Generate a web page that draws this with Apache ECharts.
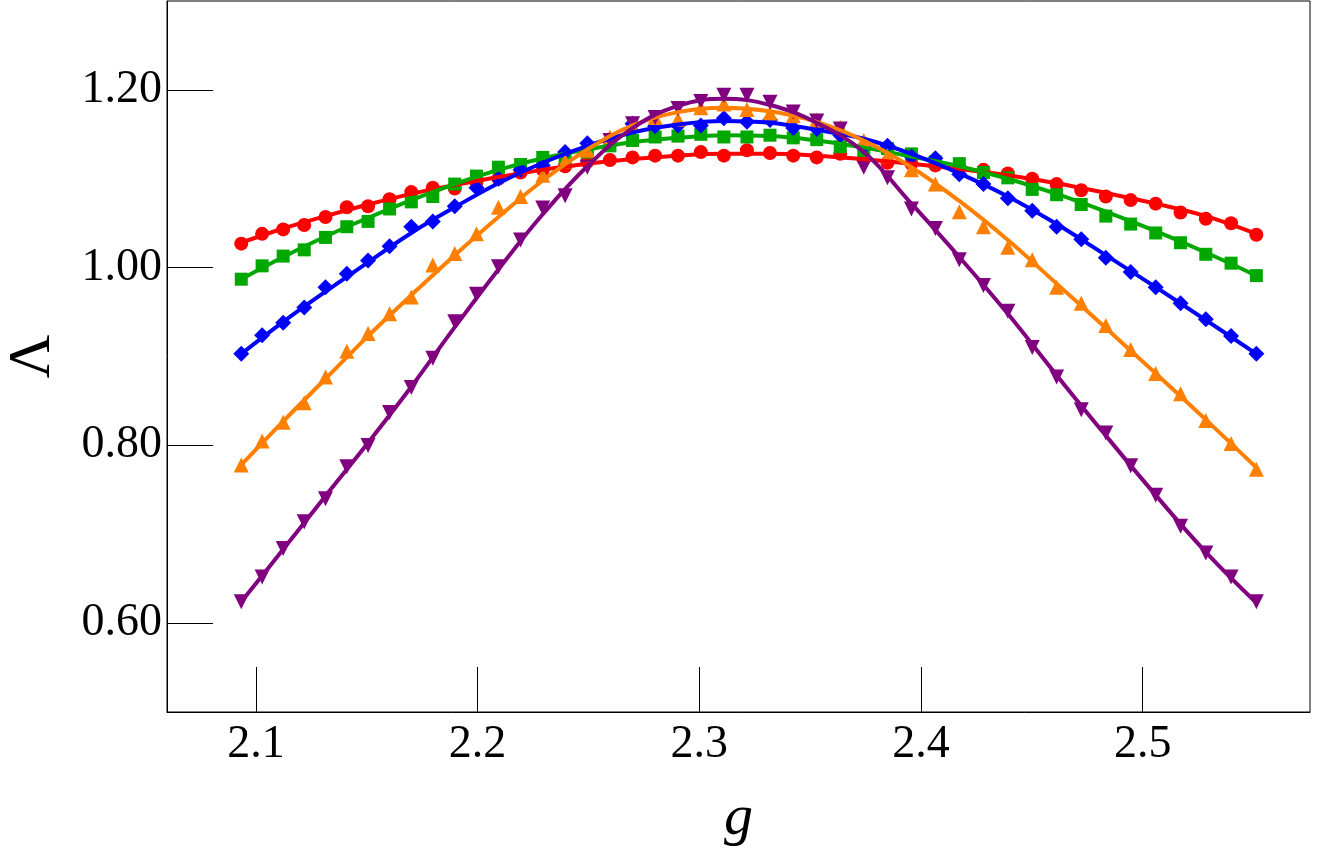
<!DOCTYPE html>
<html>
<head>
<meta charset="utf-8">
<script src="https://cdn.jsdelivr.net/npm/echarts@6/dist/echarts.min.js"></script>
<style>
  html, body { margin: 0; padding: 0; background: #fff; }
  #main { width: 1321px; height: 859px; }
</style>
</head>
<body>
<div id="main"></div>
<script type="text/javascript">
    // coupling values g of the measured points
    var gVals = [2.0934, 2.1028, 2.1123, 2.1218, 2.1314, 2.1410, 2.1506, 2.1603, 2.1701, 2.1798,
                 2.1897, 2.1995, 2.2094, 2.2194, 2.2294, 2.2395, 2.2495, 2.2597, 2.2699, 2.2801,
                 2.2904, 2.3007, 2.3111, 2.3215, 2.3319, 2.3424, 2.3530, 2.3636, 2.3742, 2.3849,
                 2.3957, 2.4065, 2.4173, 2.4282, 2.4392, 2.4502, 2.4612, 2.4723, 2.4834, 2.4946,
                 2.5059, 2.5171, 2.5285, 2.5399, 2.5513];

    var red    = [1.027, 1.038, 1.043, 1.048, 1.057, 1.068, 1.069, 1.077, 1.085, 1.090, 1.089, 1.096, 1.100, 1.107, 1.110,
                  1.114, 1.119, 1.121, 1.124, 1.126, 1.126, 1.130, 1.126, 1.132, 1.129, 1.126, 1.124, 1.128, 1.122, 1.118,
                  1.117, 1.115, 1.113, 1.110, 1.106, 1.100, 1.094, 1.087, 1.080, 1.076, 1.072, 1.062, 1.055, 1.050, 1.037];
    var green  = [0.987, 1.002, 1.013, 1.020, 1.034, 1.046, 1.052, 1.066, 1.074, 1.080, 1.094, 1.103, 1.113, 1.116, 1.124,
                  1.123, 1.130, 1.137, 1.143, 1.147, 1.148, 1.150, 1.147, 1.147, 1.149, 1.146, 1.144, 1.136, 1.132, 1.134,
                  1.128, 1.119, 1.117, 1.107, 1.101, 1.088, 1.082, 1.071, 1.058, 1.049, 1.039, 1.028, 1.015, 1.005, 0.991];
    var blue   = [0.903, 0.924, 0.938, 0.955, 0.978, 0.993, 1.008, 1.024, 1.046, 1.052, 1.069, 1.090, 1.100, 1.110, 1.115,
                  1.130, 1.140, 1.143, 1.162, 1.159, 1.160, 1.160, 1.168, 1.164, 1.166, 1.157, 1.156, 1.149, 1.136, 1.137,
                  1.125, 1.123, 1.105, 1.094, 1.078, 1.064, 1.046, 1.032, 1.011, 0.995, 0.978, 0.960, 0.942, 0.923, 0.903];
    var orange = [0.778, 0.805, 0.826, 0.848, 0.877, 0.906, 0.926, 0.948, 0.967, 1.003, 1.016, 1.038, 1.068, 1.080, 1.104,
                  1.120, 1.132, 1.147, 1.160, 1.169, 1.167, 1.180, 1.184, 1.178, 1.174, 1.171, 1.166, 1.158, 1.143, 1.126,
                  1.110, 1.094, 1.063, 1.046, 1.023, 1.009, 0.978, 0.960, 0.935, 0.908, 0.881, 0.858, 0.828, 0.802, 0.773];
    var purple = [0.624, 0.652, 0.684, 0.714, 0.740, 0.776, 0.800, 0.837, 0.865, 0.898, 0.939, 0.970, 1.001, 1.031, 1.067,
                  1.081, 1.113, 1.143, 1.162, 1.169, 1.179, 1.187, 1.194, 1.194, 1.186, 1.175, 1.165, 1.156, 1.113, 1.101,
                  1.066, 1.044, 1.009, 0.980, 0.951, 0.910, 0.877, 0.840, 0.814, 0.777, 0.744, 0.709, 0.679, 0.652, 0.624];

    // fitted curves
    var gFit = [2.0934, 2.1123, 2.1314, 2.1506, 2.1701, 2.1897, 2.2094, 2.2294, 2.2495, 2.2699, 2.2904, 2.3111,
                2.3319, 2.3530, 2.3742, 2.3957, 2.4173, 2.4392, 2.4612, 2.4834, 2.5059, 2.5285, 2.5513];
    var redFit    = [1.028, 1.044, 1.058, 1.071, 1.083, 1.093, 1.102, 1.110, 1.117, 1.122, 1.126, 1.128,
                     1.128, 1.126, 1.122, 1.117, 1.111, 1.104, 1.095, 1.084, 1.072, 1.058, 1.038];
    var greenFit  = [0.987, 1.012, 1.035, 1.056, 1.076, 1.094, 1.110, 1.123, 1.133, 1.141, 1.146, 1.149,
                     1.148, 1.143, 1.135, 1.125, 1.114, 1.100, 1.083, 1.063, 1.041, 1.017, 0.991];
    var blueFit   = [0.903, 0.939, 0.973, 1.006, 1.039, 1.068, 1.095, 1.118, 1.137, 1.152, 1.161, 1.165,
                     1.163, 1.155, 1.145, 1.128, 1.106, 1.080, 1.049, 1.014, 0.978, 0.941, 0.903];
    var orangeFit = [0.778, 0.827, 0.875, 0.923, 0.969, 1.014, 1.057, 1.098, 1.133, 1.160, 1.175, 1.180,
                     1.176, 1.164, 1.143, 1.113, 1.075, 1.031, 0.982, 0.932, 0.881, 0.829, 0.775];
    var purpleFit = [0.624, 0.683, 0.743, 0.803, 0.866, 0.933, 0.998, 1.060, 1.114, 1.157, 1.182, 1.190,
                     1.183, 1.163, 1.130, 1.072, 1.012, 0.948, 0.879, 0.811, 0.744, 0.680, 0.623];

    var xTicks = [2.1, 2.2, 2.3, 2.4, 2.5];
    var yTicks = [0.6, 0.8, 1.0, 1.2];

    var FONT = 'Liberation Serif';

    function pairs(xs, ys) {
        var out = [];
        for (var i = 0; i < ys.length; i++) {
            out.push([xs[i], ys[i]]);
        }
        return out;
    }

    function addSeries(list, color, symbol, size, rotate, pts, fit) {
        list.push({
            type: 'line',
            data: pairs(gFit, fit),
            smooth: 0.4,
            showSymbol: false,
            symbol: 'none',
            lineStyle: { color: color, width: 4 },
            silent: true
        });
        list.push({
            type: 'scatter',
            data: pairs(gVals, pts),
            symbol: symbol,
            symbolSize: size,
            symbolRotate: rotate,
            itemStyle: { color: color, opacity: 1 }
        });
    }

    var series = [];
    addSeries(series, '#ff0000', 'circle', 14, 0, red, redFit);
    addSeries(series, '#00a800', 'rect', 13, 0, green, greenFit);
    addSeries(series, '#0000ff', 'diamond', 16, 0, blue, blueFit);
    addSeries(series, '#ff8000', 'triangle', 15, 0, orange, orangeFit);
    addSeries(series, '#800080', 'triangle', 15, 180, purple, purpleFit);

    var chart = echarts.init(document.getElementById('main'));
    chart.setOption({
        animation: false,
        grid: {
            left: 167, right: 11, top: 1, bottom: 147,
            outerBoundsMode: 'none',
            containLabel: false,
            show: true, borderColor: '#000', borderWidth: 1, backgroundColor: '#fff'
        },
        xAxis: {
            type: 'value',
            min: 2.0599,
            max: 2.5755,
            name: 'g',
            nameLocation: 'middle',
            nameGap: 78,
            nameTextStyle: { fontFamily: FONT, fontSize: 58, fontStyle: 'italic', color: '#000' },
            axisLine: { show: true, onZero: false, lineStyle: { color: '#000', width: 1 } },
            axisTick: { show: true, inside: true, length: 45, customValues: xTicks, lineStyle: { color: '#000', width: 1 } },
            axisLabel: {
                customValues: xTicks, margin: 10,
                fontFamily: FONT, fontSize: 46, color: '#000',
                formatter: function (v) { return v.toFixed(1); }
            },
            splitLine: { show: false }
        },
        yAxis: {
            type: 'value',
            min: 0.5,
            max: 1.3,
            name: 'Λ',
            nameLocation: 'middle',
            nameRotate: 90,
            nameGap: 104,
            nameTextStyle: { fontFamily: FONT, fontSize: 60, color: '#000' },
            axisLine: { show: true, onZero: false, lineStyle: { color: '#000', width: 1 } },
            axisTick: { show: true, inside: true, length: 46, customValues: yTicks, lineStyle: { color: '#000', width: 1 } },
            axisLabel: {
                customValues: yTicks, margin: 5,
                fontFamily: FONT, fontSize: 46, color: '#000',
                formatter: function (v) { return v.toFixed(2); }
            },
            splitLine: { show: false }
        },
        series: series
    });
</script>
</body>
</html>
